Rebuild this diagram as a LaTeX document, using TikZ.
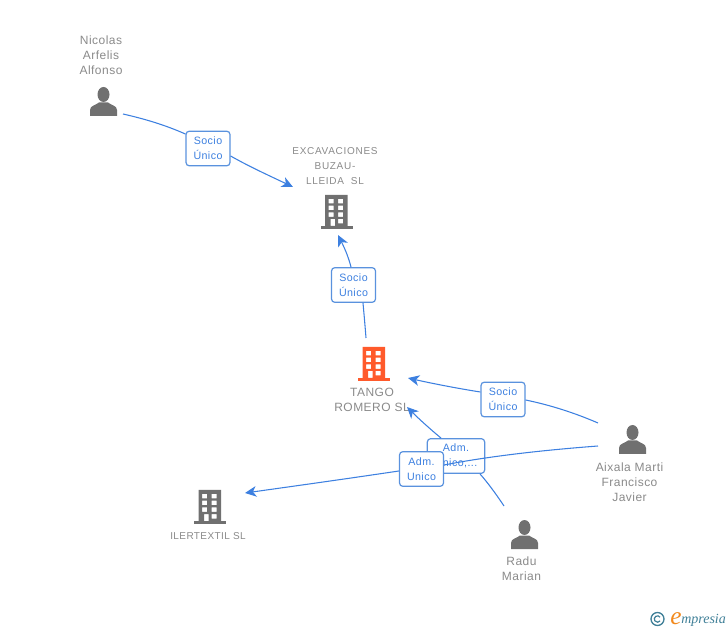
\documentclass[tikz,border=0pt]{standalone}
\usepackage{fontspec}
\usetikzlibrary{arrows.meta}
\setmainfont{Liberation Sans}
\newfontfamily\lblfont[LetterSpace=4]{Liberation Sans}
\newfontfamily\widefont[LetterSpace=7]{Liberation Sans}
\newfontfamily\logofont{Liberation Serif}
\pgfdeclarelayer{connlayer}
\pgfdeclarelayer{toplayer}
\pgfsetlayers{main,connlayer,toplayer}
\definecolor{iconGrey}{HTML}{707070}
\definecolor{textGrey}{HTML}{8A8A8A}
\definecolor{linkBlue}{HTML}{3D80E0}
\definecolor{boxBlue}{HTML}{5A92DE}
\definecolor{mainOrange}{HTML}{FF5A2B}
\definecolor{logoTeal}{HTML}{3F7F97}
\definecolor{logoOrange}{HTML}{F28A1E}
\tikzset{
  x=0.75pt,y=-0.75pt,
  nametext/.style={font=\lblfont\fontsize{9}{11.25}\selectfont,text=textGrey,align=center,inner sep=0pt},
  smalltext/.style={font=\lblfont\fontsize{7.5}{11.25}\selectfont,text=textGrey,align=center,inner sep=0pt},
  widetext/.style={font=\widefont\fontsize{7.5}{11.25}\selectfont,text=textGrey,align=center,inner sep=0pt},
  rolebox/.style={draw=boxBlue,line width=0.9pt,rounded corners=2.5pt,fill=white,text=linkBlue,
    font=\lblfont\fontsize{8}{11.25}\selectfont,align=center,inner sep=0pt,minimum width=33pt,minimum height=26pt},
  conn/.style={draw=linkBlue,line width=0.8pt},
  arrowconn/.style={conn,-{Stealth[length=8.5pt,width=8pt,inset=2.5pt]}},
  pics/person/.style={code={
    \fill[iconGrey] (0,-7.5) ellipse (6 and 7.5);
    \fill[iconGrey] (-13.5,14) -- (-13.5,8) .. controls (-13.5,3.5) and (-8,3.5) .. (-4.5,0.5)
      -- (4.5,0.5) .. controls (8,3.5) and (13.5,3.5) .. (13.5,8) -- (13.5,14) -- cycle;
  }},
  pics/building/.style={code={
    \fill[#1,even odd rule] (-11.5,-17) rectangle (11,14)
      (-8,-13) rectangle (-3,-8.5) (1.5,-13) rectangle (6.5,-8.5)
      (-8,-6.3) rectangle (-3,-1.8) (1.5,-6.3) rectangle (6.5,-1.8)
      (-8,0.4) rectangle (-3,4.9) (1.5,0.4) rectangle (6.5,4.9)
      (-6,7) rectangle (-1.5,14) (1.5,7) rectangle (6.5,11.5);
    \fill[#1] (-16,14) rectangle (16,17);
  }},
}
\begin{document}
\begin{tikzpicture}
\useasboundingbox (0,0) rectangle (728,630);
% icons
\pic at (103.5,102) {person};
\pic at (632.5,440) {person};
\pic at (524.5,535) {person};
\pic at (336.5,212) {building=iconGrey};
\pic at (374,364) {building=mainOrange};
\pic at (210,507) {building=iconGrey};
% labels
\node[nametext] (nicolas) at (101,55) {Nicolas\\Arfelis\\Alfonso};
\node[widetext] (excav) at (335,166) {EXCAVACIONES\\BUZAU-\\LLEIDA\ \ SL};
\node[nametext] (tango) at (372,400) {TANGO\\ROMERO SL};
\node[smalltext] (iler) at (208,536) {ILERTEXTIL SL};
\node[nametext] (aixala) at (629.5,482) {Aixala Marti\\Francisco\\Javier};
\node[nametext] (radu) at (521.5,569) {Radu\\Marian};
% free ends of connectors
\coordinate (nicolasOut) at (123,114);
\coordinate (excavIn) at (293,187);
\coordinate (tangoOut) at (366,338);
\coordinate (excavInB) at (338,235);
\coordinate (aixalaOutA) at (598,423);
\coordinate (tangoInA) at (408,378);
\coordinate (aixalaOutB) at (598,446);
\coordinate (ilerIn) at (245,493);
\coordinate (raduOut) at (504,506);
\coordinate (tangoInB) at (407,407);
% role boxes
\node[rolebox] (roleA) at (208,148.5) {Socio\\Único};
\node[rolebox] (roleB) at (353.5,285) {Socio\\Único};
\node[rolebox] (roleC) at (503,399.5) {Socio\\Único};
\node[rolebox,minimum width=43pt] (roleD) at (456,456) {Adm.\\Único,...};
\begin{pgfonlayer}{toplayer}
\node[rolebox] (roleE) at (421.5,469) {Adm.\\Unico};
\end{pgfonlayer}
% connectors
\begin{pgfonlayer}{connlayer}
\draw[conn] (nicolasOut) .. controls (145,119) and (165,125) .. (roleA.west |- 0,134);
\draw[arrowconn] (roleA.east |- 0,156) .. controls (250,167) and (270,176) .. (excavIn);
\draw[conn] (tangoOut) .. controls (365,325) and (364,314) .. (roleB.south -| 363,0);
\draw[arrowconn] (roleB.north -| 351,0) .. controls (348,255) and (343,245) .. (excavInB);
\draw[conn] (aixalaOutA) .. controls (575,413) and (550,405) .. (roleC.east |- 0,400);
\draw[arrowconn] (roleC.west |- 0,392) .. controls (455,388) and (430,383) .. (tangoInA);
\draw[conn] (aixalaOutB) .. controls (545,450) and (490,456) .. (roleE.east |- 0,465);
\draw[arrowconn] (roleE.west |- 0,471) .. controls (345,479) and (295,486) .. (ilerIn);
\draw[conn] (raduOut) .. controls (496,494) and (488,483) .. (roleD.south -| 480,0);
\draw[arrowconn] (roleD.north -| 441,0) .. controls (430,429) and (418,418) .. (tangoInB);
\end{pgfonlayer}
% logo
\draw[logoTeal,line width=1pt] (657.5,619) circle (6.5);
\draw[logoTeal,line width=0.9pt] (660.1,617.2) arc (-35:-325:3.2);
\node[inner sep=0pt,anchor=base west,text=logoOrange,font=\logofont\itshape\fontsize{19}{19}\selectfont] (logoE) at (670,624) {e};
\node[inner sep=0pt,anchor=base west,text=logoTeal,font=\logofont\itshape\fontsize{10.5}{10.5}\selectfont] (logoT) at (681,623.5) {mpresia};
\end{tikzpicture}
\end{document}
